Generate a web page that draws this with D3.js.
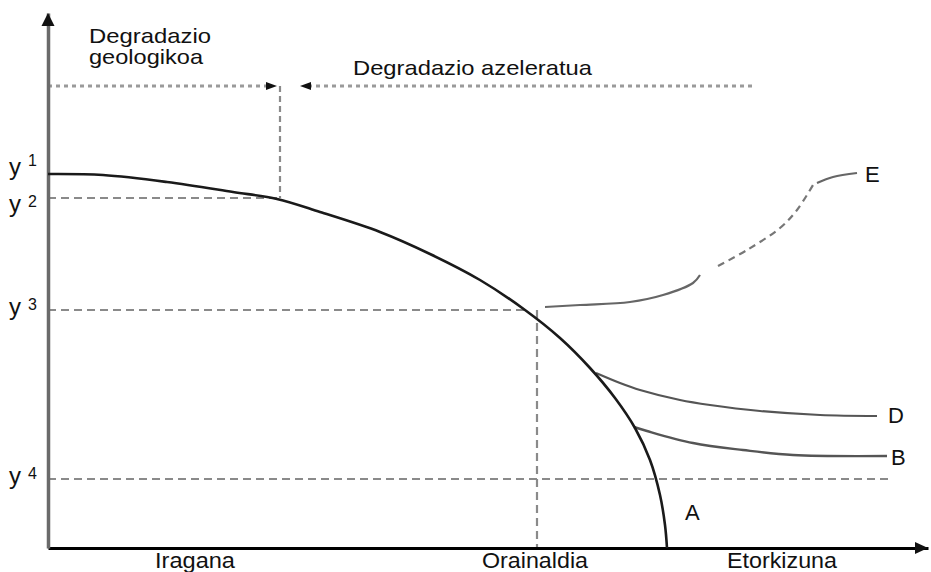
<!DOCTYPE html>
<html><head><meta charset="utf-8">
<script src="https://cdn.jsdelivr.net/npm/d3@7"></script>
<style>
body{margin:0;background:#fff}
svg{display:block}
text{font-family:"Liberation Sans",Arial,sans-serif;fill:#111}
</style>
</head><body>
<svg id="c" width="931" height="572"></svg>
<script>
// ---- data (arbitrary units: time along x, soil / resource level along y) ----
const curveA = [[0,374],[55,373],[119,366],[185,356],[229,349],[272,336],[332,316],[382,294],[432,268],[477,238],[512,210],[542,180],[567,150],[587,120],[602,88],[612,53],[617,23],[619,0]];
const curveD = [[548,175],[572,165],[592,158],[632,148],[662,143],[712,137],[772,133],[829,132]];
const curveB = [[586,121],[599,117],[645,105],[695,98],[745,93],[839,92]];
const curveESolid1 = [[497,241],[532,243],[582,246],[615,253],[645,265],[652,273]];
const curveEDashed = [[670,282],[699,298],[732,320],[749,338],[765,363]];
const curveESolid2 = [[769,365],[785,371],[809,375]];
const levelNames = ["1","2","3","4"];
const levelValues = [374,350,238,69];          // y1..y4
const levelLabelValues = [373,336,233,64];     // where the y-labels sit
const levelLineEnds = [null,232,477,842];      // x extent of dashed guide lines
const periodLabels = ["Iragana","Orainaldia","Etorkizuna"];
const periodLabelX = [107,434,679];
const presentX = 489;
const geoLimitX = 232;
const phaseLevel = 462;
const phaseLeftEnd = 229, phaseRightStart = 252, phaseRightEnd = 707;
const xMax = 880, yMax = 535;

// ---- scales ----
const x = d3.scaleLinear().domain([0, xMax]).range([48, 928]);
const y = d3.scaleLinear().domain([0, yMax]).range([548, 13]);

const svg = d3.select("#c");
const line = d3.line().x(d => x(d[0])).y(d => y(d[1])).curve(d3.curveCatmullRom.alpha(0.5));

// ---- guide lines ----
const gGuide = svg.append("g").attr("fill","none");
levelValues.forEach((v,i) => {
  if (levelLineEnds[i] == null) return;
  gGuide.append("line")
    .attr("x1", x(0)).attr("x2", x(levelLineEnds[i]))
    .attr("y1", y(v)).attr("y2", y(v))
    .attr("stroke","#8a8a8a").attr("stroke-width",2.2).attr("stroke-dasharray","8,5");
});
gGuide.append("line").attr("x1", x(presentX)).attr("x2", x(presentX))
  .attr("y1", y(levelValues[2])).attr("y2", y(0))
  .attr("stroke","#8a8a8a").attr("stroke-width",2.2).attr("stroke-dasharray","8,5");
gGuide.append("line").attr("x1", x(geoLimitX)).attr("x2", x(geoLimitX))
  .attr("y1", y(phaseLevel)).attr("y2", y(levelValues[1]))
  .attr("stroke","#8a8a8a").attr("stroke-width",2.2).attr("stroke-dasharray","6,4");
gGuide.append("line").attr("x1", x(0)).attr("x2", x(phaseLeftEnd) - 8)
  .attr("y1", y(phaseLevel)).attr("y2", y(phaseLevel))
  .attr("stroke","#9a9a9a").attr("stroke-width",3).attr("stroke-dasharray","4,4");
gGuide.append("line").attr("x1", x(phaseRightStart) + 8).attr("x2", x(phaseRightEnd))
  .attr("y1", y(phaseLevel)).attr("y2", y(phaseLevel))
  .attr("stroke","#9a9a9a").attr("stroke-width",3).attr("stroke-dasharray","4,4");
const tipR = [x(phaseLeftEnd), y(phaseLevel)];
svg.append("path").attr("d", `M${tipR[0]},${tipR[1]}L${tipR[0]-11},${tipR[1]-4}L${tipR[0]-11},${tipR[1]+4}Z`).attr("fill","#111");
const tipL = [x(phaseRightStart), y(phaseLevel)];
svg.append("path").attr("d", `M${tipL[0]},${tipL[1]}L${tipL[0]+11},${tipL[1]-4}L${tipL[0]+11},${tipL[1]+4}Z`).attr("fill","#111");

// ---- axes ----
const gx = svg.append("g").attr("transform", `translate(0,${y(0)})`)
  .call(d3.axisBottom(x).tickValues([]).tickSizeOuter(0));
gx.select(".domain").attr("stroke","#000").attr("stroke-width",3);
const gy = svg.append("g").attr("transform", `translate(${x(0)},0)`)
  .call(d3.axisLeft(y).tickValues([]).tickSizeOuter(0));
gy.select(".domain").attr("stroke","#6a6a6a").attr("stroke-width",3.5);
const xt = [x(xMax), y(0)];
svg.append("path").attr("d", `M${xt[0]},${xt[1]}L${xt[0]-13},${xt[1]-6}L${xt[0]-13},${xt[1]+6}Z`).attr("fill","#111");
const yt = [x(0), y(yMax)];
svg.append("path").attr("d", `M${yt[0]},${yt[1]}L${yt[0]-6.5},${yt[1]+13}L${yt[0]+6.5},${yt[1]+13}Z`).attr("fill","#111");

// ---- curves ----
svg.append("path").attr("d", line(curveD)).attr("fill","none").attr("stroke","#555").attr("stroke-width",2.2);
svg.append("path").attr("d", line(curveB)).attr("fill","none").attr("stroke","#555").attr("stroke-width",2.4);
svg.append("path").attr("d", line(curveESolid1)).attr("fill","none").attr("stroke","#666").attr("stroke-width",2.2);
svg.append("path").attr("d", line(curveEDashed)).attr("fill","none").attr("stroke","#777").attr("stroke-width",2.2).attr("stroke-dasharray","7,5");
svg.append("path").attr("d", line(curveESolid2)).attr("fill","none").attr("stroke","#666").attr("stroke-width",2.2);
svg.append("path").attr("d", line(curveA)).attr("fill","none").attr("stroke","#1a1a1a").attr("stroke-width",2.6);

// ---- text ----
svg.append("text").attr("x",89).attr("y",43).attr("font-size",21).attr("textLength",122).attr("lengthAdjust","spacingAndGlyphs").text("Degradazio");
svg.append("text").attr("x",89).attr("y",64).attr("font-size",21).attr("textLength",114).attr("lengthAdjust","spacingAndGlyphs").text("geologikoa");
svg.append("text").attr("x",353).attr("y",75).attr("font-size",21).attr("textLength",239).attr("lengthAdjust","spacingAndGlyphs").text("Degradazio azeleratua");

levelNames.forEach((n,i) => {
  const t = svg.append("text").attr("x",9).attr("y", y(levelLabelValues[i])).attr("font-size",24);
  t.append("tspan").text("y");
  t.append("tspan").attr("x",28).attr("dy", i === 0 ? -9 : -5).attr("font-size",16).text(n);
});

const periodWidths = [80,106,110];
periodLabels.forEach((p,i) => {
  svg.append("text").attr("x", x(periodLabelX[i])).attr("y",567.5).attr("font-size",22)
    .attr("textLength", periodWidths[i]).attr("lengthAdjust","spacingAndGlyphs").text(p);
});

svg.append("text").attr("x",685).attr("y",520).attr("font-size",22).text("A");
svg.append("text").attr("x",891).attr("y",465).attr("font-size",22).text("B");
svg.append("text").attr("x",888).attr("y",423).attr("font-size",22).text("D");
svg.append("text").attr("x",865).attr("y",182).attr("font-size",22).text("E");
</script>
</body></html>
